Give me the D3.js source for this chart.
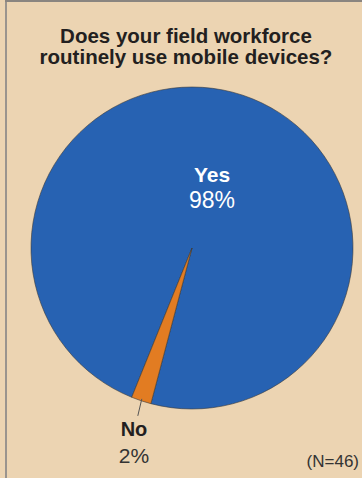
<!DOCTYPE html>
<html>
<head>
<meta charset="utf-8">
<script src="https://cdn.jsdelivr.net/npm/d3@7"></script>
<style>
  html, body { margin: 0; padding: 0; background: #ecd4b2; }
  svg { display: block; }
</style>
</head>
<body>
<script>
// Survey answers and their shares (%)
const answers = ["Yes", "No"];
const shares = [98, 2];
const titleLines = ["Does your field workforce", "routinely use mobile devices?"];
const sampleNote = "(N=46)";

const W = 362, H = 478;
const colors = { Yes: "#2762b2", No: "#e27c22" };

const svg = d3.select("body").append("svg")
  .attr("width", W).attr("height", H);

// panel background and frame
svg.append("rect").attr("x", 0).attr("y", 0).attr("width", W).attr("height", H)
  .attr("fill", "#ecd4b2");
svg.append("line").attr("x1", 6).attr("x2", 6).attr("y1", 0).attr("y2", H)
  .attr("stroke", "#9a948e").attr("stroke-width", 2);
svg.append("line").attr("x1", 5).attr("x2", W).attr("y1", 1).attr("y2", 1)
  .attr("stroke", "#8a8580").attr("stroke-width", 2);

// title
svg.append("g").selectAll("text").data(titleLines).join("text")
  .attr("x", 186).attr("y", (d, i) => 43 + i * 21)
  .attr("text-anchor", "middle")
  .attr("font-family", "Liberation Sans, Arial, sans-serif")
  .attr("font-weight", "bold").attr("font-size", 20.5)
  .attr("fill", "#231f20")
  .text(d => d);

// pie
const cx = 192, cy = 248, R = 161;
const data = answers.map((a, i) => ({ answer: a, value: shares[i] }));
const startDeg = 202;
const pie = d3.pie().sort(null).value(d => d.value)
  .startAngle(startDeg * Math.PI / 180)
  .endAngle((startDeg + 360) * Math.PI / 180);
const arcs = pie(data);
const arc = d3.arc().innerRadius(0).outerRadius(R);

const g = svg.append("g").attr("transform", `translate(${cx},${cy})`);
g.selectAll("path").data(arcs).join("path")
  .attr("d", arc)
  .attr("fill", d => colors[d.data.answer])
  .attr("stroke", "#3a3a3a").attr("stroke-width", 0.6);

// leader line for the small slice
const noArc = arcs[1];
const mid = (noArc.startAngle + noArc.endAngle) / 2;
const p1 = [Math.sin(mid) * (R - 2), -Math.cos(mid) * (R - 2)];
g.append("line")
  .attr("x1", p1[0]).attr("y1", p1[1])
  .attr("x2", p1[0] - 4).attr("y2", p1[1] + 17)
  .attr("stroke", "#555").attr("stroke-width", 1);

// slice labels
const labelFont = "Liberation Sans, Arial, sans-serif";
const yesG = svg.append("g").attr("fill", "#ffffff").attr("font-family", labelFont)
  .attr("text-anchor", "middle");
yesG.append("text").attr("x", 212).attr("y", 182)
  .attr("font-weight", "bold").attr("font-size", 21).text(answers[0]);
yesG.append("text").attr("x", 212).attr("y", 208)
  .attr("font-size", 23).text(shares[0] + "%");

const noG = svg.append("g").attr("fill", "#231f20").attr("font-family", labelFont)
  .attr("text-anchor", "middle");
noG.append("text").attr("x", 134).attr("y", 436)
  .attr("font-weight", "bold").attr("font-size", 20).text(answers[1]);
noG.append("text").attr("x", 134).attr("y", 463)
  .attr("font-size", 21).attr("fill", "#333").text(shares[1] + "%");

// sample size note
svg.append("text").attr("x", 359).attr("y", 467)
  .attr("text-anchor", "end")
  .attr("font-family", labelFont).attr("font-size", 17)
  .attr("fill", "#333").text(sampleNote);
</script>
</body>
</html>
